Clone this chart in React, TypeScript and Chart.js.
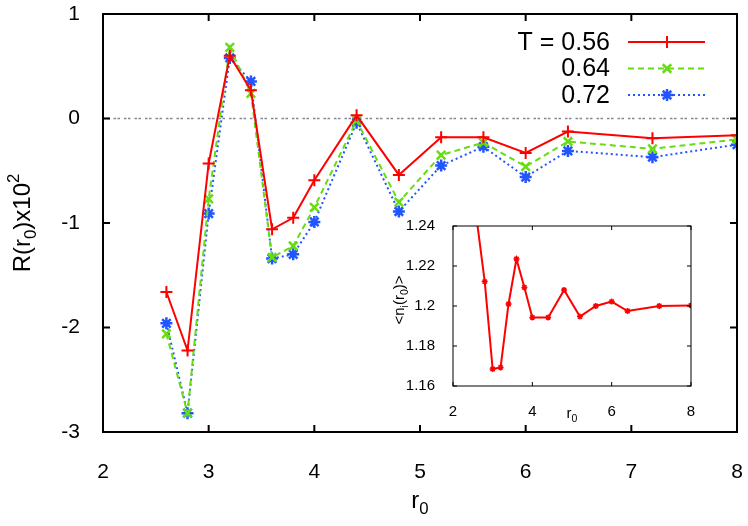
import React, { useEffect, useRef } from "react";
import { Chart, registerables } from "chart.js";

Chart.register(...registerables);

// r0 grid shared by main plot and inset
const r0 = [2.6, 2.8, 3.0, 3.2, 3.4, 3.6, 3.8, 4.0, 4.4, 4.8, 5.2, 5.6, 6.0, 6.4, 7.2, 8.0];
// R(r0) x 10^2 for each temperature
const rT056 = [-1.66, -2.22, -0.43, 0.6, 0.27, -1.06, -0.95, -0.59, 0.03, -0.54, -0.18, -0.18, -0.33, -0.125, -0.19, -0.16];
const rT064 = [-2.06, -2.82, -0.77, 0.68, 0.24, -1.33, -1.22, -0.85, -0.02, -0.8, -0.35, -0.23, -0.46, -0.22, -0.29, -0.2];
const rT072 = [-1.96, -2.82, -0.91, 0.58, 0.355, -1.34, -1.3, -0.99, -0.04, -0.89, -0.45, -0.27, -0.56, -0.31, -0.37, -0.25];
// inset <n_i(r0)>
const nI = [1.243, 1.2122, 1.1685, 1.1693, 1.201, 1.2235, 1.2093, 1.1943, 1.1943, 1.208, 1.1947, 1.2, 1.2022, 1.1975, 1.2, 1.2003];
const seriesLabels = ["T = 0.56", "0.64", "0.72"];

const FONT = '"Liberation Sans", Arial, Helvetica, sans-serif';

type Part = { t: string; s?: "sub" | "sup" };

// text with sub/superscripts, centred on x
function drawRich(ctx: CanvasRenderingContext2D, parts: Part[], x: number, y: number, size: number) {
    const small = size * 0.7;
    const widths = parts.map((p) => {
        ctx.font = `${p.s ? small : size}px ${FONT}`;
        return ctx.measureText(p.t).width;
    });
    const total = widths.reduce((a, b) => a + b, 0);
    let cx = x - total / 2;
    ctx.textAlign = "left";
    ctx.textBaseline = "alphabetic";
    parts.forEach((p, i) => {
        ctx.font = `${p.s ? small : size}px ${FONT}`;
        const dy = p.s === "sub" ? size * 0.25 : p.s === "sup" ? -size * 0.45 : 0;
        ctx.fillText(p.t, cx, y + dy);
        cx += widths[i];
    });
}

function drawMarker(ctx: CanvasRenderingContext2D, style: string, x: number, y: number, r: number) {
    ctx.beginPath();
    if (style === "cross" || style === "star") {
        ctx.moveTo(x - r, y);
        ctx.lineTo(x + r, y);
        ctx.moveTo(x, y - r);
        ctx.lineTo(x, y + r);
    }
    if (style === "crossRot" || style === "star") {
        const d = r * Math.SQRT1_2;
        ctx.moveTo(x - d, y - d);
        ctx.lineTo(x + d, y + d);
        ctx.moveTo(x - d, y + d);
        ctx.lineTo(x + d, y - d);
    }
    ctx.stroke();
}

// fixed axis sizes, no extra label padding
const fixSize = (key: "width" | "height", n: number) => (s: any) => {
    s[key] = n;
    s.paddingTop = 0;
    s.paddingBottom = 0;
    s.paddingLeft = 0;
    s.paddingRight = 0;
};

// black box with inward ticks on all four sides
const framePlugin = (tickLen: number, lw: number) => ({
    id: "frame",
    afterDatasetsDraw(chart: any) {
        const { ctx, chartArea: a, scales } = chart;
        ctx.save();
        ctx.strokeStyle = "#000";
        ctx.lineWidth = lw;
        ctx.setLineDash([]);
        ctx.beginPath();
        scales.x.ticks.forEach((t: any) => {
            const px = scales.x.getPixelForValue(t.value);
            ctx.moveTo(px, a.bottom);
            ctx.lineTo(px, a.bottom - tickLen);
            ctx.moveTo(px, a.top);
            ctx.lineTo(px, a.top + tickLen);
        });
        scales.y.ticks.forEach((t: any) => {
            const py = scales.y.getPixelForValue(t.value);
            ctx.moveTo(a.left, py);
            ctx.lineTo(a.left + tickLen, py);
            ctx.moveTo(a.right, py);
            ctx.lineTo(a.right - tickLen, py);
        });
        ctx.stroke();
        ctx.strokeRect(a.left, a.top, a.width, a.height);
        ctx.restore();
    },
});

const mainDecor = {
    id: "mainDecor",
    beforeDatasetsDraw(chart: any) {
        const { ctx, chartArea: a, scales } = chart;
        const py = scales.y.getPixelForValue(0);
        ctx.save();
        ctx.strokeStyle = "#808890";
        ctx.lineWidth = 1.5;
        ctx.setLineDash([2.5, 1.5, 2.5, 4]);
        ctx.beginPath();
        ctx.moveTo(a.left, py);
        ctx.lineTo(a.right, py);
        ctx.stroke();
        ctx.restore();
    },
    afterDraw(chart: any) {
        const { ctx, chartArea: a } = chart;
        ctx.save();
        ctx.fillStyle = "#000";
        // legend
        chart.data.datasets.forEach((ds: any, i: number) => {
            const y = 42 + i * 26.5;
            ctx.font = `25px ${FONT}`;
            ctx.textAlign = "right";
            ctx.textBaseline = "middle";
            ctx.fillStyle = "#000";
            ctx.fillText(ds.label, 610, y + 1);
            ctx.strokeStyle = ds.borderColor;
            ctx.lineWidth = ds.borderWidth;
            ctx.setLineDash(ds.borderDash || []);
            ctx.beginPath();
            ctx.moveTo(628, y);
            ctx.lineTo(705, y);
            ctx.stroke();
            ctx.setLineDash([]);
            ctx.lineWidth = ds.pointBorderWidth;
            drawMarker(ctx, ds.pointStyle, 667, y, ds.pointRadius);
        });
        // axis titles
        ctx.fillStyle = "#000";
        drawRich(ctx, [{ t: "r" }, { t: "0", s: "sub" }], (a.left + a.right) / 2, 508, 24);
        ctx.translate(30, (a.top + a.bottom) / 2);
        ctx.rotate(-Math.PI / 2);
        drawRich(ctx, [{ t: "R(r" }, { t: "0", s: "sub" }, { t: ")x10" }, { t: "2", s: "sup" }], 0, 0, 24);
        ctx.restore();
    },
};

const insetDecor = {
    id: "insetDecor",
    afterDraw(chart: any) {
        const { ctx, chartArea: a } = chart;
        ctx.save();
        ctx.fillStyle = "#000";
        drawRich(ctx, [{ t: "r" }, { t: "0", s: "sub" }], (a.left + a.right) / 2, a.bottom + 32, 15);
        ctx.translate(a.left - 49, (a.top + a.bottom) / 2 - 6);
        ctx.rotate(-Math.PI / 2);
        drawRich(ctx, [{ t: "<n" }, { t: "i", s: "sub" }, { t: "(r" }, { t: "0", s: "sub" }, { t: ")>" }], 0, 0, 15);
        ctx.restore();
    },
};

const App: React.FC = () => {
    const mainRef = useRef<HTMLCanvasElement>(null!);
    const insetRef = useRef<HTMLCanvasElement>(null!);

    useEffect(() => {
        const mk = (ys: number[]) => r0.map((x, i) => ({ x, y: ys[i] }));

        const main = new Chart(mainRef.current, {
            type: "scatter",
            data: {
                datasets: [
                    {
                        label: seriesLabels[0],
                        data: mk(rT056),
                        showLine: true,
                        borderColor: "#ff0000",
                        backgroundColor: "#ff0000",
                        borderWidth: 2,
                        pointStyle: "cross",
                        pointRadius: 6,
                        pointBorderWidth: 2,
                        order: 1,
                    },
                    {
                        label: seriesLabels[1],
                        data: mk(rT064),
                        showLine: true,
                        borderColor: "#66dd11",
                        backgroundColor: "#66dd11",
                        borderWidth: 2,
                        borderDash: [6, 4],
                        pointStyle: "crossRot",
                        pointRadius: 6,
                        pointBorderWidth: 2.5,
                        order: 2,
                    },
                    {
                        label: seriesLabels[2],
                        data: mk(rT072),
                        showLine: true,
                        borderColor: "#2255ff",
                        backgroundColor: "#2255ff",
                        borderWidth: 2,
                        borderDash: [2, 3],
                        pointStyle: "star",
                        pointRadius: 6,
                        pointBorderWidth: 2.5,
                        order: 3,
                    },
                ] as any,
            },
            options: {
                animation: false,
                responsive: false,
                layout: { autoPadding: false, padding: { left: 0, right: 11, top: 14, bottom: 0 } },
                plugins: { legend: { display: false }, tooltip: { enabled: false } },
                scales: {
                    x: {
                        type: "linear",
                        min: 2,
                        max: 8,
                        ticks: { stepSize: 1, color: "#000", font: { family: FONT, size: 21 }, padding: 20, maxRotation: 0 },
                        grid: { display: false },
                        border: { display: false },
                        afterFit: fixSize("height", 94),
                    },
                    y: {
                        type: "linear",
                        min: -3,
                        max: 1,
                        ticks: { stepSize: 1, color: "#000", font: { family: FONT, size: 21 }, padding: 15 },
                        grid: { display: false },
                        border: { display: false },
                        afterFit: fixSize("width", 103),
                    },
                },
            },
            plugins: [mainDecor, framePlugin(7, 2)],
        });

        const inset = new Chart(insetRef.current, {
            type: "scatter",
            data: {
                datasets: [
                    {
                        data: r0.map((x, i) => ({ x, y: nI[i] })),
                        showLine: true,
                        borderColor: "#ff0000",
                        backgroundColor: "#ff0000",
                        borderWidth: 2,
                        pointStyle: "star",
                        pointRadius: 3,
                        pointBorderWidth: 1.5,
                        clip: 0,
                    },
                ] as any,
            },
            options: {
                animation: false,
                responsive: false,
                layout: { autoPadding: false, padding: { left: 0, right: 14, top: 11, bottom: 0 } },
                plugins: { legend: { display: false }, tooltip: { enabled: false } },
                scales: {
                    x: {
                        type: "linear",
                        min: 2,
                        max: 8,
                        ticks: { stepSize: 2, color: "#000", font: { family: FONT, size: 15 }, padding: 9, maxRotation: 0 },
                        grid: { display: false },
                        border: { display: false },
                        afterFit: fixSize("height", 44),
                    },
                    y: {
                        type: "linear",
                        min: 1.16,
                        max: 1.24,
                        ticks: {
                            stepSize: 0.02,
                            color: "#000",
                            font: { family: FONT, size: 15 },
                            padding: 10,
                            callback: (v: any) => String(Number(Number(v).toFixed(2))),
                        },
                        grid: { display: false },
                        border: { display: false },
                        afterFit: fixSize("width", 68),
                    },
                },
            },
            plugins: [insetDecor, framePlugin(4, 1)],
        });

        return () => {
            main.destroy();
            inset.destroy();
        };
    }, []);

    return (
        <div style={{ position: "absolute", left: 0, top: 0, width: 748, height: 526, background: "#fff" }}>
            <canvas ref={mainRef} width={748} height={526} style={{ position: "absolute", left: 0, top: 0 }}></canvas>
            <canvas ref={insetRef} width={320} height={215} style={{ position: "absolute", left: 385, top: 215 }}></canvas>
        </div>
    );
};

export default App;
